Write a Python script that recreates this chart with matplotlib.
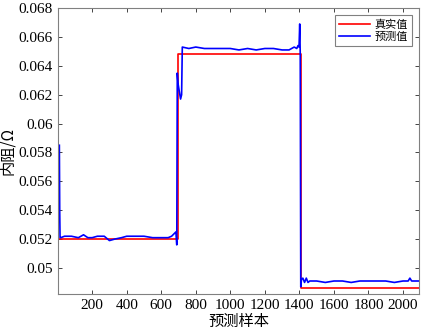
import matplotlib
matplotlib.use("Agg")
import matplotlib.pyplot as plt
import numpy as np

# true value (step)
true_x = [1, 695, 695, 1410, 1410, 2093]
true_y = [0.0520, 0.0520, 0.0648, 0.0648, 0.0486, 0.0486]

# predicted values
pred_x = [10, 12, 14, 18, 40, 80, 120, 150, 175, 200, 230, 270, 300, 330, 370, 400,
          450, 500, 550, 600, 640, 660, 685, 690, 693, 697, 705, 712, 718, 722,
          760, 800, 850, 900, 950, 1000, 1050, 1100, 1150, 1200, 1250, 1300, 1340,
          1370, 1385, 1392, 1398, 1402, 1405, 1408, 1412, 1420, 1430, 1440, 1450,
          1460, 1500, 1550, 1600, 1650, 1700, 1750, 1800, 1850, 1900, 1950, 2000,
          2030, 2040, 2050, 2093]
pred_y = [0.0585, 0.0540, 0.0521, 0.0521, 0.0522, 0.0522, 0.0521, 0.0523, 0.0521, 0.0521,
          0.0522, 0.0522, 0.0519, 0.0520, 0.0521, 0.0522, 0.0522, 0.0522, 0.0521,
          0.0521, 0.0521, 0.0522, 0.0525, 0.0516, 0.0635, 0.0628, 0.0622, 0.0617,
          0.0620, 0.0653, 0.0652, 0.0653, 0.0652, 0.0652, 0.0652, 0.0652, 0.0651,
          0.0652, 0.0651, 0.0652, 0.0652, 0.0651, 0.0651, 0.0653, 0.0652, 0.0654,
          0.0653, 0.0669, 0.0648, 0.0487, 0.0492, 0.0493, 0.0490, 0.0493, 0.0490,
          0.0491, 0.0491, 0.0490, 0.0491, 0.0491, 0.0490, 0.0491, 0.0491, 0.0491,
          0.0491, 0.0490, 0.0491, 0.0491, 0.0493, 0.0491, 0.0491]

xticks = [200, 400, 600, 800, 1000, 1200, 1400, 1600, 1800, 2000]
yticks = [0.05, 0.052, 0.054, 0.056, 0.058, 0.06, 0.062, 0.064, 0.066, 0.068]
ytick_labels = ["0.05", "0.052", "0.054", "0.056", "0.058", "0.06", "0.062", "0.064", "0.066", "0.068"]

plt.rcParams['font.family'] = ['Liberation Serif', 'Noto Sans CJK SC']

fig = plt.figure(figsize=(4.25, 3.36), dpi=100)
ax = fig.add_axes([0.136, 0.125, 0.85, 0.851])

ax.plot(true_x, true_y, color='#ff0000', lw=1.2, label='真实值')
ax.plot(pred_x, pred_y, color='#0000ff', lw=1.2, label='预测值')

ax.set_xlim(1, 2093)
ax.set_ylim(0.0482, 0.068)
ax.set_xticks(xticks)
ax.set_xticklabels([str(v) for v in xticks])
ax.set_yticks(yticks)
ax.set_yticklabels(ytick_labels)
ax.tick_params(direction='in', top=True, right=True, labelsize=11, length=3,
               colors='#262626', width=0.6)
for lab in ax.get_xticklabels() + ax.get_yticklabels():
    lab.set_color('black')
for s in ax.spines.values():
    s.set_color('#808080')
    s.set_linewidth(0.8)

ax.set_xlabel('预测样本', fontsize=11, family=['Noto Sans CJK SC'], labelpad=1)
ax.set_ylabel('内阻/Ω', fontsize=11, family=['Noto Sans CJK SC', 'DejaVu Sans'], labelpad=2)

leg = ax.legend(loc='upper right', prop={'family': ['Noto Sans CJK SC'], 'size': 8},
                fancybox=False, edgecolor='#808080', framealpha=1,
                handlelength=2.8, handletextpad=0.4, borderpad=0.4,
                labelspacing=0.2, borderaxespad=0.6)
leg.get_frame().set_linewidth(0.8)

fig.savefig('out.png', dpi=100)
